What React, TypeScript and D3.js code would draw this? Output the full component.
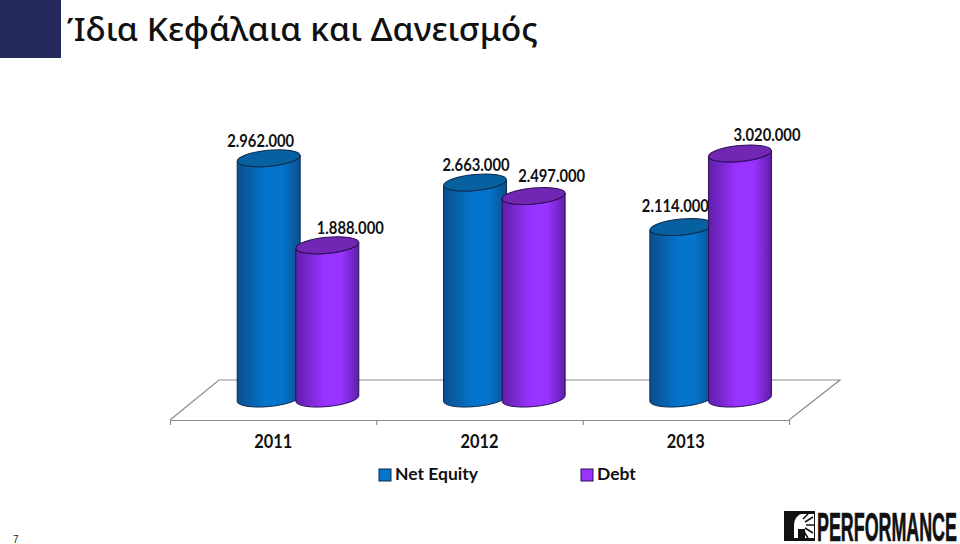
import React, { useRef, useEffect } from 'react';
import * as d3 from 'd3';

const years = ['2011', '2012', '2013'];
const series = ['Net Equity', 'Debt'];
const netEquity = [2962000, 2663000, 2114000];
const debt = [1888000, 2497000, 3020000];

const font = 'Lato, "Noto Sans", sans-serif';

const colors: Record<string, { edge: string; mid: string; top: string; line: string }> = {
  'Net Equity': { edge: '#0a4f8c', mid: '#0474cc', top: '#07609f', line: '#0c2a4e' },
  Debt: { edge: '#5f1ea8', mid: '#9933ff', top: '#7226b4', line: '#2c0f55' }
};

// nudge of each value label from the top of its bar, same order as the values
const labelShift: Record<string, number[]> = {
  'Net Equity': [-8, 1, -6],
  Debt: [23, 18, 27]
};
const labelLift: Record<string, number[]> = {
  'Net Equity': [11, 11, 15],
  Debt: [11, 14, 13]
};

export default function App() {
  const svgRef = useRef<SVGSVGElement>(null);

  useEffect(() => {
    if (!svgRef.current) return;
    const svg = d3.select(svgRef.current);
    svg.selectAll('*').remove();

    const floor = { left: 170, right: 789, front: 420, back: 380, depth: 50 };
    const barWidth = 63;
    const tilt = 5.5;
    const ry = 8;
    const rx = barWidth / 2;
    const dy = rx * Math.sin((tilt * Math.PI) / 180);

    const x0 = d3.scaleBand().domain(years).range([floor.left, floor.right]);
    const x1 = d3.scaleOrdinal<string, number>().domain(series).range([67.2, 125.8]);
    const y = d3.scaleLinear().domain([0, 3020000]).range([398.5, 153.5]);
    const fmt = d3.formatLocale({ decimal: ',', thousands: '.', grouping: [3], currency: ['', ''] }).format(',');

    const defs = svg.append('defs');
    series.forEach((s, i) => {
      const g = defs.append('linearGradient').attr('id', 'cyl' + i);
      g.append('stop').attr('offset', '0%').attr('stop-color', colors[s].edge);
      g.append('stop').attr('offset', '45%').attr('stop-color', colors[s].mid);
      g.append('stop').attr('offset', '72%').attr('stop-color', colors[s].mid);
      g.append('stop').attr('offset', '100%').attr('stop-color', colors[s].edge);
    });

    // header block and title
    svg.append('rect').attr('width', 61).attr('height', 58).attr('fill', '#25295b');
    svg
      .append('text')
      .attr('x', 67)
      .attr('y', 41)
      .attr('textLength', 471)
      .attr('lengthAdjust', 'spacingAndGlyphs')
      .attr('font-family', '"Noto Sans", sans-serif')
      .attr('font-weight', 500)
      .attr('font-size', 33)
      .attr('fill', '#111')
      .text('Ίδια Κεφάλαια και Δανεισμός');

    // floor
    svg
      .append('path')
      .attr(
        'd',
        `M${floor.left},${floor.front}L${floor.left + floor.depth - 1},${floor.back}H${floor.right + floor.depth + 1}L${floor.right},${floor.front}`
      )
      .attr('fill', 'none')
      .attr('stroke', '#8c8c8c')
      .attr('stroke-width', 1.2);

    const tickScale = d3.scaleLinear().domain([0, years.length]).range([floor.left, floor.right]);
    const axis = svg
      .append('g')
      .attr('transform', 'translate(0,' + floor.front + ')')
      .call(
        d3
          .axisBottom(tickScale)
          .tickValues(d3.range(years.length + 1))
          .tickFormat(() => '')
          .tickSizeInner(5)
          .tickSizeOuter(0)
      );
    axis.selectAll('path,line').attr('stroke', '#8c8c8c').attr('stroke-width', 1.2);

    // cylinders
    const cylinder = (cx: number, top: number, bottom: number) =>
      `M${cx - rx},${top + dy}L${cx - rx},${bottom + dy}` +
      `A${rx},${ry} ${-tilt} 0 0 ${cx + rx},${bottom - dy}` +
      `L${cx + rx},${top - dy}` +
      `A${rx},${ry} ${-tilt} 0 1 ${cx - rx},${top + dy}Z`;

    const values: Record<string, number[]> = { 'Net Equity': netEquity, Debt: debt };
    years.forEach((year, yi) => {
      series.forEach((s, si) => {
        const v = values[s][yi];
        const cx = (x0(year) as number) + x1(s) + rx;
        const g = svg.append('g');
        g.append('path')
          .attr('d', cylinder(cx, y(v), y(0)))
          .attr('fill', `url(#cyl${si})`)
          .attr('stroke', colors[s].line)
          .attr('stroke-width', 1);
        g.append('ellipse')
          .attr('cx', cx)
          .attr('cy', y(v))
          .attr('rx', rx)
          .attr('ry', ry)
          .attr('transform', `rotate(${-tilt} ${cx} ${y(v)})`)
          .attr('fill', colors[s].top)
          .attr('stroke', colors[s].line)
          .attr('stroke-width', 1);
      });
    });

    // value labels go on top of every bar
    years.forEach((year, yi) => {
      series.forEach((s) => {
        const v = values[s][yi];
        svg
          .append('text')
          .attr('x', (x0(year) as number) + x1(s) + rx + labelShift[s][yi] - 33.5)
          .attr('y', y(v) - labelLift[s][yi])
          .attr('textLength', 67)
          .attr('lengthAdjust', 'spacingAndGlyphs')
          .attr('font-family', font)
          .attr('font-weight', 700)
          .attr('font-size', 16.5)
          .attr('fill', '#111')
          .text(fmt(v));
      });
    });

    // year labels
    svg
      .selectAll('text.year')
      .data(years)
      .enter()
      .append('text')
      .attr('class', 'year')
      .attr('x', (d) => (x0(d) as number) + x0.bandwidth() / 2 - 19)
      .attr('y', 448)
      .attr('textLength', 38)
      .attr('lengthAdjust', 'spacingAndGlyphs')
      .attr('font-family', font)
      .attr('font-weight', 700)
      .attr('font-size', 18.5)
      .attr('fill', '#111')
      .text((d) => d);

    // legend
    const legendX = d3.scaleOrdinal<string, number>().domain(series).range([379, 581]);
    const legend = svg
      .selectAll('g.legend')
      .data(series)
      .enter()
      .append('g')
      .attr('class', 'legend')
      .attr('transform', (d) => `translate(${legendX(d)},469)`);
    legend
      .append('rect')
      .attr('width', 12)
      .attr('height', 12)
      .attr('fill', (d) => colors[d].mid)
      .attr('stroke', (d) => colors[d].line);
    legend
      .append('text')
      .attr('x', 16)
      .attr('y', 11)
      .attr('font-family', font)
      .attr('font-weight', 700)
      .attr('font-size', 17.5)
      .attr('fill', '#111')
      .text((d) => d);

    // page number
    svg
      .append('text')
      .attr('x', 13)
      .attr('y', 543)
      .attr('font-family', '"Liberation Sans", sans-serif')
      .attr('font-size', 10)
      .attr('fill', '#222')
      .text('7');

    // logo
    const logo = svg.append('g').attr('transform', 'translate(784,511)');
    logo.append('rect').attr('width', 31).attr('height', 30).attr('fill', '#111');
    logo
      .append('path')
      .attr('d', 'M17,3L30,3V27L21,27V18L14,18V27H10V16C10,9 12,5 17,3Z')
      .attr('fill', '#fff');
    logo
      .append('path')
      .attr('d', 'M19,8L24,3M21,11L29,6M22,14H30M21,17L29,22M19,19L24,27')
      .attr('stroke', '#111')
      .attr('stroke-width', 1.5);
    const logoText = logo
      .append('text')
      .attr('font-family', '"Liberation Sans Narrow", "Liberation Sans", sans-serif')
      .attr('font-weight', 700)
      .attr('font-size', 41)
      .attr('stroke', '#111')
      .attr('stroke-width', 0.7)
      .attr('fill', '#111')
      .text('PERFORMANCE');
    // squeeze the wordmark to the logo's width
    const natural = (logoText.node() as SVGTextElement).getComputedTextLength();
    logoText.attr('transform', `translate(33,29.5) scale(${140 / natural},1)`);
  }, []);

  return (
    <svg
      ref={svgRef}
      width={960}
      height={544}
      style={{ position: 'absolute', left: 0, top: 0, background: '#fff' }}
    />
  );
}
